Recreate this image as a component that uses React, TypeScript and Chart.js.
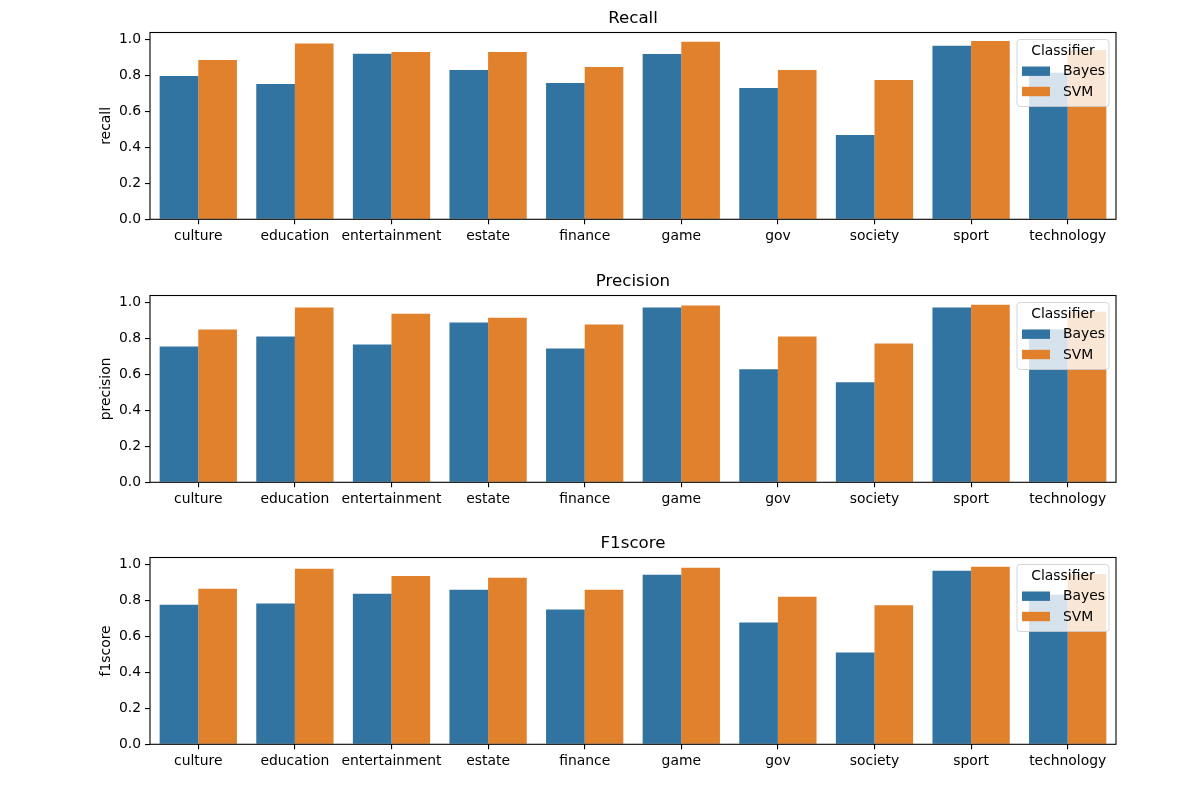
import React, { useEffect, useRef } from "react";
import { Chart, registerables } from "chart.js";

Chart.register(...registerables);

const categories = ["culture", "education", "entertainment", "estate", "finance", "game", "gov", "society", "sport", "technology"];
const seriesNames = ["Bayes", "SVM"];
const recallBayes = [0.796, 0.751, 0.919, 0.829, 0.757, 0.918, 0.729, 0.468, 0.963, 0.813];
const recallSVM = [0.885, 0.976, 0.929, 0.929, 0.846, 0.985, 0.829, 0.774, 0.99, 0.94];
const precisionBayes = [0.754, 0.809, 0.765, 0.887, 0.743, 0.97, 0.627, 0.555, 0.97, 0.85];
const precisionSVM = [0.848, 0.97, 0.936, 0.914, 0.876, 0.981, 0.809, 0.771, 0.985, 0.947];
const f1Bayes = [0.775, 0.781, 0.836, 0.858, 0.748, 0.941, 0.676, 0.51, 0.963, 0.83];
const f1SVM = [0.864, 0.974, 0.935, 0.924, 0.858, 0.98, 0.819, 0.772, 0.985, 0.946];
const yTicks = [0, 0.2, 0.4, 0.6, 0.8, 1.0];
const panelTitles = ["Recall", "Precision", "F1score"];
const axisTitles = ["recall", "precision", "f1score"];
const legendTitle = "Classifier";

const COLORS = ["#3274a1", "#e1812c"];
const FONT = "'DejaVu Sans', sans-serif";
const TICK_SIZE = 13.9;
const CANVAS_W = 1200;
const CANVAS_H = 263;
const PANEL_STEP = 262.5;

const framePlugin = {
  id: "frameAndLegend",
  afterDatasetsDraw(chart: any) {
    const { ctx, chartArea } = chart;
    const { left, top, right, bottom } = chartArea;
    ctx.save();
    ctx.strokeStyle = "#000";
    ctx.lineWidth = 1.1;
    ctx.strokeRect(left, top, right - left, bottom - top);

    // legend
    const w = 92;
    const h = 67;
    const lx = right - 7 - w;
    const ly = top + 7;
    ctx.beginPath();
    const r = 3;
    ctx.moveTo(lx + r, ly);
    ctx.lineTo(lx + w - r, ly);
    ctx.quadraticCurveTo(lx + w, ly, lx + w, ly + r);
    ctx.lineTo(lx + w, ly + h - r);
    ctx.quadraticCurveTo(lx + w, ly + h, lx + w - r, ly + h);
    ctx.lineTo(lx + r, ly + h);
    ctx.quadraticCurveTo(lx, ly + h, lx, ly + h - r);
    ctx.lineTo(lx, ly + r);
    ctx.quadraticCurveTo(lx, ly, lx + r, ly);
    ctx.closePath();
    ctx.fillStyle = "rgba(255,255,255,0.8)";
    ctx.fill();
    ctx.strokeStyle = "rgba(204,204,204,0.8)";
    ctx.lineWidth = 1;
    ctx.stroke();

    ctx.fillStyle = "#000";
    ctx.font = `${TICK_SIZE}px ${FONT}`;
    ctx.textBaseline = "middle";
    ctx.textAlign = "center";
    ctx.fillText(legendTitle, lx + w / 2, ly + 11.5);
    ctx.textAlign = "left";
    const rows = [ly + 31.7, ly + 52];
    seriesNames.forEach((name, i) => {
      ctx.fillStyle = COLORS[i];
      ctx.fillRect(lx + 5, rows[i] - 4.7, 28, 9.4);
      ctx.fillStyle = "#000";
      ctx.fillText(name, lx + 46, rows[i] + 0.5);
    });
    ctx.restore();
  },
};

function Panel({ index, bayes, svm }: { index: number; bayes: number[]; svm: number[] }) {
  const ref = useRef<HTMLCanvasElement>(null);
  useEffect(() => {
    if (!ref.current) return;
    const chart = new Chart(ref.current, {
      type: "bar",
      data: {
        labels: categories,
        datasets: [
          { label: seriesNames[0], data: bayes, backgroundColor: COLORS[0], borderWidth: 0 },
          { label: seriesNames[1], data: svm, backgroundColor: COLORS[1], borderWidth: 0 },
        ],
      },
      options: {
        responsive: false,
        animation: false,
        devicePixelRatio: 1,
        datasets: { bar: { categoryPercentage: 0.8, barPercentage: 1.0 } },
        layout: { padding: { left: 94, right: 84, top: 0.5, bottom: 0 } },
        plugins: {
          legend: { display: false },
          tooltip: { enabled: false },
          title: {
            display: true,
            text: panelTitles[index],
            fullSize: false,
            color: "#000",
            font: { family: FONT, size: 16.67, weight: "normal", lineHeight: 1.2 },
            padding: { top: 8, bottom: 4 },
          },
        },
        scales: {
          x: {
            offset: true,
            grid: { display: true, drawOnChartArea: false, drawTicks: true, tickLength: 5, color: "#000", lineWidth: 1.1, offset: false },
            border: { display: false },
            ticks: { color: "#000", font: { family: FONT, size: TICK_SIZE }, padding: 4, maxRotation: 0, autoSkip: false },
            afterFit: (scale: any) => {
              scale.height = 43.7;
            },
          },
          y: {
            min: 0,
            max: 1.037,
            grid: { display: true, drawOnChartArea: false, drawTicks: true, tickLength: 5, color: "#000", lineWidth: 1.1 },
            border: { display: false },
            ticks: {
              color: "#000",
              font: { family: FONT, size: TICK_SIZE },
              padding: 4,
              callback: (v: any) => Number(v).toFixed(1),
            },
            afterBuildTicks: (scale: any) => {
              scale.ticks = yTicks.map((v) => ({ value: v }));
            },
            afterFit: (scale: any) => {
              scale.width = 56;
            },
            title: {
              display: true,
              text: axisTitles[index],
              color: "#000",
              font: { family: FONT, size: TICK_SIZE },
              padding: { top: 4, bottom: 4 },
            },
          },
        },
      },
      plugins: [framePlugin],
    } as any);
    return () => chart.destroy();
  }, []);
  return (
    <div style={{ position: "absolute", left: 0, top: index * PANEL_STEP, width: CANVAS_W, height: CANVAS_H }}>
      <canvas ref={ref} width={CANVAS_W} height={CANVAS_H} style={{ display: "block" }} />
    </div>
  );
}

export default function App() {
  return (
    <div style={{ position: "absolute", left: 0, top: 0, width: 1200, height: 800, background: "#fff" }}>
      <Panel index={0} bayes={recallBayes} svm={recallSVM} />
      <Panel index={1} bayes={precisionBayes} svm={precisionSVM} />
      <Panel index={2} bayes={f1Bayes} svm={f1SVM} />
    </div>
  );
}
